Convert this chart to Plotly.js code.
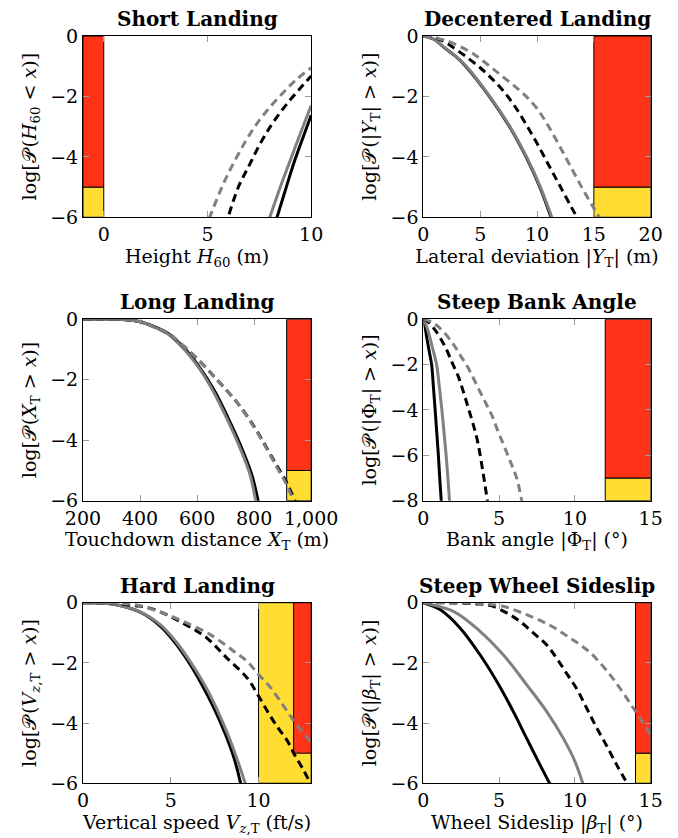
<!DOCTYPE html>
<html><head><meta charset="utf-8">
<script src="https://cdn.plot.ly/plotly-3.0.1.min.js"></script>
<style>html,body{margin:0;padding:0;background:#fff}</style>
</head><body><div id="chart" style="width:678px;height:838px"></div>
<script>
// ---------- Panel titles and axis labels ----------
const panelTitles = ["Short Landing", "Decentered Landing", "Long Landing", "Steep Bank Angle", "Hard Landing", "Steep Wheel Sideslip"];
const xTitles = [
  "Height <i>H</i><sub>60</sub> (m)",
  "Lateral deviation |<i>Y</i><sub>T</sub>| (m)",
  "Touchdown distance <i>X</i><sub>T</sub> (m)",
  "Bank angle |Φ<sub>T</sub>| (°)",
  "Vertical speed <i>V</i><sub><i>z</i>,T</sub> (ft/s)",
  "Wheel Sideslip |<i>β</i><sub>T</sub>| (°)"
];
const yTitles = [
  "log[𝒫\u200A(<i>H</i><sub>60</sub> &lt; <i>x</i>)]",
  "log[𝒫\u200A(|<i>Y</i><sub>T</sub>| &gt; <i>x</i>)]",
  "log[𝒫\u200A(<i>X</i><sub>T</sub> &gt; <i>x</i>)]",
  "log[𝒫\u200A(|Φ<sub>T</sub>| &gt; <i>x</i>)]",
  "log[𝒫\u200A(<i>V</i><sub><i>z</i>,T</sub> &gt; <i>x</i>)]",
  "log[𝒫\u200A(|<i>β</i><sub>T</sub>| &gt; <i>x</i>)]"
];

// ---------- Axis ranges and ticks ----------
const xRanges = [[-1, 10], [0, 20], [200, 1000], [0, 15], [0, 13], [0, 15]];
const yRanges = [[-6, 0], [-6, 0], [-6, 0], [-8, 0], [-6, 0], [-6, 0]];
const xTickVals = [[0, 5, 10], [0, 5, 10, 15, 20], [200, 400, 600, 800, 1000], [0, 5, 10, 15], [0, 5, 10], [0, 5, 10, 15]];
const yTickVals = [[0, -2, -4, -6], [0, -2, -4, -6], [0, -2, -4, -6], [0, -2, -4, -6, -8], [0, -2, -4, -6], [0, -2, -4, -6]];

// ---------- Zones (red = catastrophic, yellow = hazardous) ----------
const redX0 = [-1, 15, 914, 12, 12, 14];
const redX1 = [0, 20, 1000, 15, 13, 15];
const redY0 = [-5, -5, -5, -7, -5, -5];
const redY1 = [0, 0, 0, 0, 0, 0];
const yellowX0 = [-1, 15, 914, 12, 10, 14];
const yellowX1 = [0, 20, 1000, 15, 13, 15];
const yellowY0 = [-6, -6, -6, -8, -6, -6];
const yellowY1 = [-5, -5, -5, -7, 0, -5];

// ---------- Panel 1: Short Landing ----------
const short_blackSolid_x = [8.33, 8.76, 9.16, 9.56, 10.0];
const short_blackSolid_y = [-6.05, -5.09, -4.21, -3.44, -2.62];
const short_graySolid_x = [7.98, 8.52, 9.0, 9.48, 10.0];
const short_graySolid_y = [-6.05, -4.98, -4.1, -3.22, -2.3];
const short_blackDash_x = [6.04, 6.5, 7.0, 7.55, 8.03, 8.52, 9.0, 9.48, 10.0];
const short_blackDash_y = [-5.9, -4.98, -4.3, -3.55, -3.0, -2.52, -2.1, -1.72, -1.32];
const short_grayDash_x = [5.08, 5.78, 6.34, 6.91, 7.47, 8.03, 8.68, 9.32, 10.0];
const short_grayDash_y = [-6.05, -4.87, -4.1, -3.4, -2.82, -2.34, -1.85, -1.42, -1.05];

// ---------- Panel 2: Decentered Landing ----------
const dec_blackSolid_x = [0, 1, 1.76, 2.8, 3.8, 5.85, 7.6, 9.05, 10.25, 11.28];
const dec_blackSolid_y = [0, -0.12, -0.36, -0.66, -1.03, -2.02, -3.01, -4.01, -5.0, -6.05];
const dec_graySolid_x = [0, 1, 1.76, 2.8, 3.82, 5.87, 7.63, 9.09, 10.3, 11.35];
const dec_graySolid_y = [0, -0.12, -0.35, -0.65, -1.02, -2.01, -3.0, -4.0, -5.0, -6.05];
const dec_blackDash_x = [0, 1, 2, 2.94, 4, 5, 6, 7, 8, 9, 10, 11, 12, 13, 13.6];
const dec_blackDash_y = [0, -0.05, -0.22, -0.46, -0.75, -1.05, -1.4, -1.8, -2.3, -2.9, -3.55, -4.25, -4.95, -5.65, -6.05];
const dec_grayDash_x = [0, 2, 4, 5, 6, 7, 8, 9, 10, 11, 12, 13, 14, 15, 15.55];
const dec_grayDash_y = [0, -0.15, -0.5, -0.75, -1.05, -1.35, -1.65, -1.98, -2.4, -2.98, -3.65, -4.35, -5.05, -5.7, -6.05];

// ---------- Panel 3: Long Landing ----------
const long_blackSolid_x = [200, 330, 400, 446, 500, 530, 560, 602, 660, 708, 756, 792, 815];
const long_blackSolid_y = [0, 0, -0.08, -0.23, -0.48, -0.72, -1.0, -1.5, -2.35, -3.25, -4.25, -5.15, -6.05];
const long_graySolid_x = [200, 330, 400, 446, 500, 528, 560, 599, 630, 657, 704, 751, 786, 806];
const long_graySolid_y = [0, 0, -0.08, -0.24, -0.5, -0.74, -1.05, -1.51, -1.95, -2.39, -3.28, -4.27, -5.15, -6.05];
const long_blackDash_x = [200, 330, 400, 446, 500, 540, 580, 622, 660, 692, 740, 798, 845, 882, 913, 945];
const long_blackDash_y = [0, 0, -0.08, -0.24, -0.48, -0.78, -1.12, -1.51, -1.9, -2.23, -2.75, -3.52, -4.27, -4.88, -5.38, -6.05];
const long_grayDash_x = [200, 330, 400, 446, 500, 540, 580, 622, 660, 692, 740, 798, 845, 880, 910, 940];
const long_grayDash_y = [0, 0, -0.08, -0.24, -0.48, -0.78, -1.12, -1.51, -1.9, -2.23, -2.75, -3.55, -4.3, -4.9, -5.4, -6.05];

// ---------- Panel 4: Steep Bank Angle ----------
const bank_blackSolid_x = [0, 0.1, 0.25, 0.4, 0.55, 0.66, 0.77, 0.88, 0.99, 1.08, 1.19];
const bank_blackSolid_y = [0, -0.3, -0.9, -1.45, -2.02, -2.95, -3.92, -4.95, -5.98, -7.0, -8.1];
const bank_graySolid_x = [0, 0.15, 0.35, 0.6, 0.88, 1.05, 1.21, 1.36, 1.5, 1.62, 1.74];
const bank_graySolid_y = [0, -0.2, -0.6, -1.25, -2.02, -2.95, -3.92, -4.95, -5.98, -7.0, -8.1];
const bank_blackDash_x = [0, 0.3, 0.77, 1.43, 1.87, 2.31, 2.64, 2.97, 3.3, 3.6, 3.9, 4.25];
const bank_blackDash_y = [0, -0.1, -0.47, -1.2, -1.87, -2.53, -3.19, -3.92, -4.66, -5.45, -6.6, -8.1];
const bank_grayDash_x = [0, 0.5, 1.1, 1.87, 2.42, 2.97, 3.52, 4.07, 4.51, 4.94, 5.39, 5.83, 6.16, 6.52];
const bank_grayDash_y = [0, -0.1, -0.4, -0.99, -1.57, -2.16, -2.9, -3.63, -4.22, -4.96, -5.69, -6.42, -7.01, -8.1];

// ---------- Panel 5: Hard Landing ----------
const hard_blackSolid_x = [0, 1, 1.9, 3.2, 4.35, 5.25, 6.05, 6.8, 7.5, 8.1, 8.6, 9.0];
const hard_blackSolid_y = [0, -0.01, -0.07, -0.3, -0.75, -1.33, -2.0, -2.75, -3.55, -4.35, -5.15, -6.05];
const hard_graySolid_x = [0, 1, 1.9, 3.2, 4.4, 5.3, 6.1, 6.9, 7.6, 8.2, 8.75, 9.27];
const hard_graySolid_y = [0, -0.01, -0.07, -0.29, -0.73, -1.3, -1.95, -2.7, -3.5, -4.3, -5.15, -6.05];
const hard_blackDash_x = [0, 1, 2, 3, 3.8, 4.7, 5.5, 6.3, 7.05, 8.2, 9.35, 10.0, 10.6, 11.1, 11.65, 12.05, 12.5, 13.0];
const hard_blackDash_y = [0, -0.01, -0.04, -0.1, -0.18, -0.38, -0.62, -0.88, -1.17, -1.84, -2.5, -3.1, -3.7, -4.15, -4.6, -5.05, -5.5, -6.05];
const hard_grayDash_x = [0, 1, 2, 3, 4.5, 5.7, 7.25, 8.6, 9.35, 10.0, 10.7, 11.45, 12.1, 12.8, 13.0];
const hard_grayDash_y = [0, -0.01, -0.03, -0.07, -0.33, -0.62, -1.06, -1.62, -1.95, -2.39, -2.83, -3.45, -4.0, -4.5, -4.65];

// ---------- Panel 6: Steep Wheel Sideslip ----------
const slip_blackSolid_x = [0, 1.1, 2.42, 3.74, 4.84, 5.93, 6.81, 7.69, 8.38];
const slip_blackSolid_y = [0, -0.23, -0.84, -1.73, -2.61, -3.61, -4.5, -5.38, -6.05];
const slip_graySolid_x = [0, 1.98, 3.74, 5.27, 6.81, 8.13, 9.23, 10.0, 10.55];
const slip_graySolid_y = [0, -0.29, -0.95, -1.73, -2.72, -3.61, -4.5, -5.27, -6.05];
const slip_blackDash_x = [0, 2, 3.5, 4.4, 5.5, 6.37, 7.25, 8.13, 8.79, 9.45, 10.11, 10.77, 11.43, 12.09, 12.75, 13.5];
const slip_blackDash_y = [0, -0.01, -0.04, -0.09, -0.34, -0.62, -1.0, -1.4, -1.84, -2.35, -2.85, -3.5, -4.15, -4.75, -5.38, -6.05];
const slip_grayDash_x = [0, 2, 4, 5.27, 6.81, 8.35, 9.67, 10.99, 12.31, 13.19, 13.85, 14.29, 15.0];
const slip_grayDash_y = [0, 0, -0.04, -0.12, -0.4, -0.75, -1.17, -1.65, -2.39, -3.0, -3.5, -3.83, -4.4];

// ---------- Styles ----------
const BLACK = "#000000", GRAY = "#808080", RED = "#FF3318", YELLOW = "#FFDD33";
const FONT = "DejaVu Serif";
const LABEL_SIZE = 19, TITLE_SIZE = 20;

const panelSeries = [
  [[short_blackSolid_x, short_blackSolid_y], [short_graySolid_x, short_graySolid_y], [short_blackDash_x, short_blackDash_y], [short_grayDash_x, short_grayDash_y]],
  [[dec_blackSolid_x, dec_blackSolid_y], [dec_graySolid_x, dec_graySolid_y], [dec_blackDash_x, dec_blackDash_y], [dec_grayDash_x, dec_grayDash_y]],
  [[long_blackSolid_x, long_blackSolid_y], [long_graySolid_x, long_graySolid_y], [long_blackDash_x, long_blackDash_y], [long_grayDash_x, long_grayDash_y]],
  [[bank_blackSolid_x, bank_blackSolid_y], [bank_graySolid_x, bank_graySolid_y], [bank_blackDash_x, bank_blackDash_y], [bank_grayDash_x, bank_grayDash_y]],
  [[hard_blackSolid_x, hard_blackSolid_y], [hard_graySolid_x, hard_graySolid_y], [hard_blackDash_x, hard_blackDash_y], [hard_grayDash_x, hard_grayDash_y]],
  [[slip_blackSolid_x, slip_blackSolid_y], [slip_graySolid_x, slip_graySolid_y], [slip_blackDash_x, slip_blackDash_y], [slip_grayDash_x, slip_grayDash_y]]
];
const seriesStyles = [
  {color: BLACK, dash: "solid"},
  {color: GRAY, dash: "solid"},
  {color: BLACK, dash: "8px,5px"},
  {color: GRAY, dash: "8px,5px"}
];

const colDomains = [[0.1224, 0.4590], [0.6244, 0.9597]];
const rowDomains = [[0.7407, 0.9570], [0.4025, 0.6190], [0.0653, 0.2808]];

const traces = [];
const shapes = [];
const annotations = [];
const layout = {
  width: 678, height: 838,
  margin: {l: 0, r: 0, t: 0, b: 0},
  paper_bgcolor: "#fff", plot_bgcolor: "#fff",
  showlegend: false,
  font: {family: FONT, size: LABEL_SIZE, color: "#000"},
  shapes: shapes, annotations: annotations
};

for (let p = 0; p < 6; p++) {
  const row = Math.floor(p / 2), col = p % 2;
  const n = p + 1;
  const xa = n === 1 ? "xaxis" : "xaxis" + n;
  const ya = n === 1 ? "yaxis" : "yaxis" + n;
  const xr = n === 1 ? "x" : "x" + n;
  const yr = n === 1 ? "y" : "y" + n;
  const common = {
    showgrid: false, zeroline: false, showline: true, mirror: "ticks",
    linecolor: "#000", linewidth: 1, ticks: "inside", ticklen: 6,
    tickcolor: "#9a9a9a", tickwidth: 1,
    tickfont: {family: FONT, size: LABEL_SIZE, color: "#000"}
  };
  layout[xa] = Object.assign({}, common, {
    domain: colDomains[col], anchor: yr, range: xRanges[p],
    tickmode: "array", tickvals: xTickVals[p],
    separatethousands: true,
    title: {text: xTitles[p], font: {family: FONT, size: LABEL_SIZE, color: "#000"}, standoff: 4}
  });
  layout[ya] = Object.assign({}, common, {
    domain: rowDomains[row], anchor: xr, range: yRanges[p],
    tickmode: "array", tickvals: yTickVals[p],
    title: {text: yTitles[p], font: {family: FONT, size: LABEL_SIZE, color: "#000"}, standoff: 8}
  });
  // zones
  shapes.push({type: "rect", xref: xr, yref: yr, layer: "below",
    x0: yellowX0[p], x1: yellowX1[p], y0: yellowY0[p], y1: yellowY1[p],
    fillcolor: YELLOW, line: {color: "#000", width: 1}});
  shapes.push({type: "rect", xref: xr, yref: yr, layer: "below",
    x0: redX0[p], x1: redX1[p], y0: redY0[p], y1: redY1[p],
    fillcolor: RED, line: {color: "#000", width: 1}});
  // curves
  panelSeries[p].forEach((s, i) => {
    traces.push({
      type: "scatter", mode: "lines", x: s[0], y: s[1], xaxis: xr, yaxis: yr,
      line: {color: seriesStyles[i].color, dash: seriesStyles[i].dash, width: 3, shape: "spline", smoothing: 1},
      hoverinfo: "skip"
    });
  });
  // panel title
  annotations.push({
    text: "<b>" + panelTitles[p] + "</b>", xref: "paper", yref: "paper",
    x: (colDomains[col][0] + colDomains[col][1]) / 2, y: rowDomains[row][1],
    xanchor: "center", yanchor: "bottom", yshift: 3, showarrow: false,
    font: {family: FONT, size: TITLE_SIZE, color: "#000"}
  });
}

Plotly.newPlot("chart", traces, layout, {staticPlot: true, displayModeBar: false});
</script></body></html>
